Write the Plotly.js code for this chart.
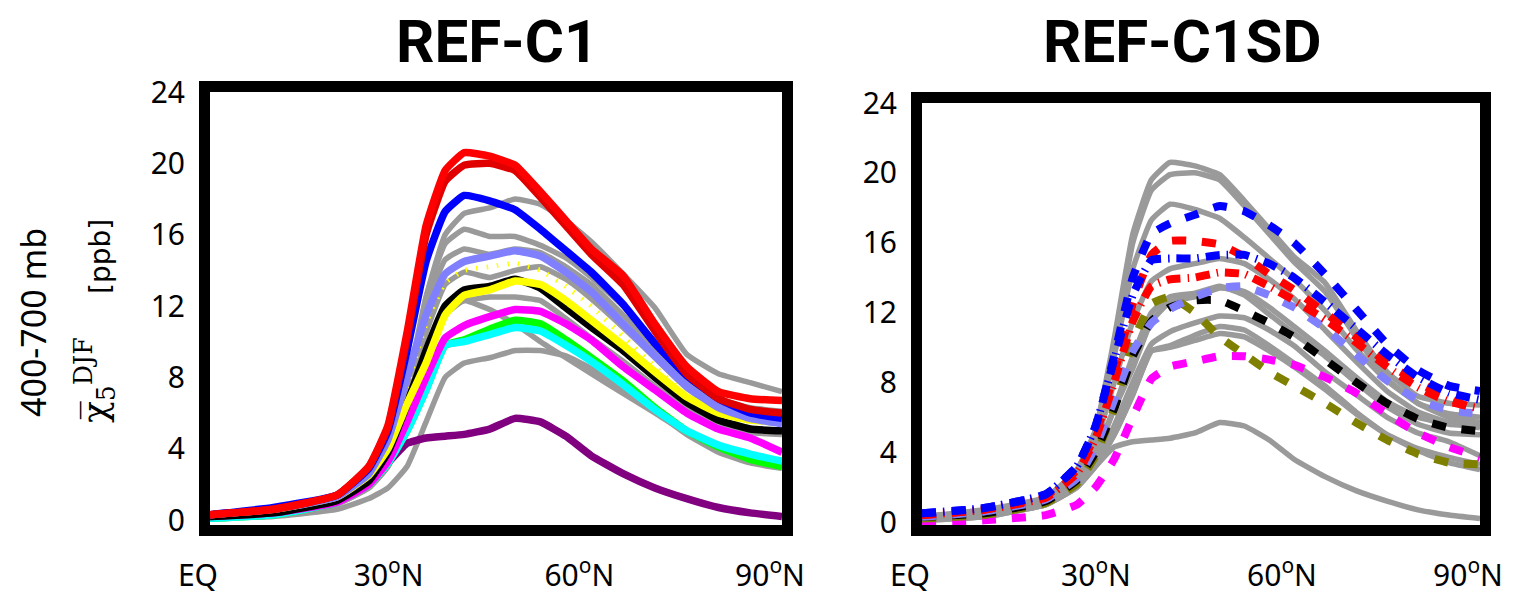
<!DOCTYPE html>
<html>
<head>
<meta charset="utf-8">
<script src="https://cdn.plot.ly/plotly-3.0.1.min.js"></script>
<style>html,body{margin:0;padding:0;background:#fff;}#chart{width:1530px;height:595px;}</style>
</head>
<body>
<div id="chart"></div>
<script>
// latitude grid (degrees N)
const lat = [0,10,20,25,28,31,34,37,40,44,48,52,56,60,65,70,75,80,85,90];

// REF-C1 models (coloured in left panel, shown grey in right panel)
const redA      = [0.3,0.6,1.4,3.0,5.3,10.5,16.5,19.6,20.6,20.4,19.9,18.4,16.8,15.2,13.7,11.0,8.6,7.2,6.8,6.7];
const redB      = [0.3,0.6,1.4,3.0,5.2,10.2,16.0,19.0,19.9,20.0,19.6,18.1,16.5,14.9,13.2,10.6,8.2,6.8,6.2,6.0];
const blue      = [0.3,0.7,1.4,2.9,5.0,9.5,14.5,17.3,18.2,17.9,17.4,16.3,15.1,13.9,12.1,9.9,8.1,6.8,6.0,5.7];
const lightblue = [0.3,0.6,1.3,2.6,4.5,8.0,11.5,13.8,14.5,14.8,15.1,14.8,13.9,12.8,11.0,9.2,7.5,6.3,5.7,5.4];
const yellowDot = [0.3,0.6,1.3,2.6,4.3,7.5,11.0,13.3,14.0,14.2,14.4,14.0,13.1,12.0,10.3,8.6,7.0,5.8,5.2,5.0];
const yellow    = [0.3,0.6,1.3,2.5,4.0,6.5,8.8,11.5,12.6,12.9,13.4,13.2,12.3,11.2,9.8,8.3,6.9,6.0,5.6,5.5];
const black     = [0.2,0.4,1.1,2.2,3.8,6.5,9.5,12.0,12.9,13.1,13.5,13.0,11.9,10.8,9.5,8.0,6.6,5.6,5.1,5.0];
const magenta   = [0.2,0.4,1.0,2.0,3.3,5.5,8.0,10.2,10.9,11.4,11.8,11.7,11.0,10.1,8.6,7.3,6.0,5.1,4.6,3.8];
const green     = [0.1,0.3,1.0,2.0,3.2,5.0,7.3,9.8,10.1,10.7,11.2,11.0,10.1,9.1,7.8,6.3,5.0,4.1,3.4,3.0];
const cyan      = [0.1,0.3,1.0,2.0,3.2,5.0,7.3,9.8,10.0,10.4,10.8,10.6,9.8,8.9,7.6,6.2,5.0,4.2,3.7,3.3];
const purple    = [0.2,0.5,1.2,2.2,3.2,4.3,4.6,4.7,4.8,5.1,5.7,5.5,4.7,3.6,2.6,1.8,1.2,0.7,0.4,0.2];

// REF-C1SD models (grey in left panel)
const grayA = [0.2,0.4,1.0,2.0,3.5,7.0,12.5,16.0,17.2,17.5,18.0,17.7,16.8,15.6,13.8,11.9,9.3,8.2,7.7,7.2];
const grayB = [0.2,0.5,1.1,2.2,3.8,7.5,12.5,15.5,16.3,15.9,15.9,15.4,14.7,13.6,12.0,10.0,8.0,6.8,6.3,6.1];
const grayC = [0.2,0.5,1.1,2.2,3.8,7.2,12.0,14.6,15.2,14.9,15.2,15.0,14.2,13.2,11.5,9.6,7.7,6.5,6.0,5.8];
const grayD = [0.2,0.4,1.0,2.0,3.5,6.5,10.5,13.2,13.9,13.6,14.0,14.2,13.5,12.4,10.8,9.1,7.4,6.2,5.6,5.4];
const grayE = [0.1,0.3,0.9,1.8,3.0,5.5,9.0,11.8,12.3,12.5,12.5,12.3,11.3,10.2,8.9,7.5,6.2,5.3,4.9,4.8];
const grayF = [0.1,0.3,0.9,1.8,3.0,5.5,9.0,11.5,12.3,11.8,11.0,10.0,9.1,8.2,7.1,6.0,4.9,4.0,3.5,3.3];
const grayG = [0.1,0.2,0.6,1.2,1.8,3.0,5.5,8.0,8.8,9.1,9.5,9.5,9.2,8.5,7.4,6.1,4.8,3.8,3.2,2.9];

// REF-C1SD models (coloured dashed in right panel)
const blueD1     = [0.5,0.8,1.6,3.2,5.5,9.5,14.0,16.5,17.1,17.6,18.1,17.8,17.0,16.0,14.2,12.2,10.2,8.7,7.8,7.5];
const blueD2     = [0.5,0.8,1.6,3.2,5.5,9.3,13.0,15.0,15.1,15.1,15.3,15.3,14.8,14.0,12.6,11.1,9.6,8.3,7.4,7.0];
const redD1      = [0.4,0.7,1.5,3.0,5.0,8.5,12.5,15.3,16.1,16.1,15.9,15.2,14.2,13.3,12.0,10.6,9.1,8.0,7.1,6.3];
const redD2      = [0.4,0.7,1.4,2.8,4.8,8.0,11.5,13.5,13.9,14.0,14.3,14.2,13.5,12.7,11.6,10.3,8.9,7.7,6.9,6.5];
const lightblueD = [0.3,0.6,1.3,2.5,4.3,7.0,9.8,11.4,12.2,12.9,13.4,13.5,13.0,12.3,11.1,9.6,8.1,7.0,6.4,6.2];
const blackD     = [0.3,0.5,1.2,2.4,4.0,6.5,9.5,11.5,12.3,12.7,12.7,12.1,11.4,10.6,9.3,8.0,6.8,5.9,5.4,5.2];
const oliveD     = [0.2,0.4,1.1,2.2,3.8,6.5,10.3,12.5,12.9,12.0,10.6,9.6,8.6,7.8,6.8,5.7,4.7,3.9,3.4,3.3];
const magentaD   = [0.0,0.1,0.4,1.0,2.0,3.6,6.0,8.2,8.9,9.2,9.5,9.5,9.3,9.0,8.3,7.4,6.2,5.1,4.3,3.7];

// tick labels
const xTickVals = [0,30,60,90];
const xTickText = ['EQ','30<sup>o</sup>N','60<sup>o</sup>N','90<sup>o</sup>N'];
const yTickVals = [0,4,8,12,16,20,24];
const panelTitles = ['REF-C1','REF-C1SD'];

const GREY = '#9a9a9a';
const traces = [];
function add(y, color, width, dash, xa, ya) {
  traces.push({x: lat, y: y, type: 'scatter', mode: 'lines', xaxis: xa, yaxis: ya,
    line: {color: color, width: width, dash: dash || 'solid', shape: 'spline', smoothing: 0.4},
    hoverinfo: 'skip'});
}
// left panel
[grayG, grayF, grayE, grayD, grayC, grayB, grayA].forEach(g => add(g, GREY, 5.5, null, 'x', 'y'));
add(purple, '#800080', 7.5, null, 'x', 'y');
add(yellowDot, '#ffff00', 5, '1.5px,9px', 'x', 'y');
add(green, '#00ff00', 7.5, null, 'x', 'y');
add(cyan, '#00ffff', 7.5, null, 'x', 'y');
add(magenta, '#ff00ff', 7.5, null, 'x', 'y');
add(black, '#000000', 7.5, null, 'x', 'y');
add(yellow, '#ffff00', 7.5, null, 'x', 'y');
add(lightblue, '#8080ff', 7.5, null, 'x', 'y');
add(blue, '#0000ff', 7.5, null, 'x', 'y');
add(redB, '#e00000', 7.5, null, 'x', 'y');
add(redA, '#ff0000', 7.5, null, 'x', 'y');
// right panel
[purple, green, cyan, magenta, black, yellow, lightblue, blue, redB, redA].forEach(g => add(g, GREY, 5.5, null, 'x2', 'y2'));
add(magentaD, '#ff00ff', 8, '14px,16px', 'x2', 'y2');
add(oliveD, '#808000', 8, '14px,16px', 'x2', 'y2');
add(blackD, '#000000', 8, '14px,16px', 'x2', 'y2');
add(lightblueD, '#8080ff', 8, '14px,16px', 'x2', 'y2');
add(redD2, '#ff0000', 8, '14px,7px,1.5px,7px', 'x2', 'y2');
add(redD1, '#ff0000', 8, '14px,16px', 'x2', 'y2');
add(blueD2, '#0000ff', 8, '14px,7px,1.5px,7px', 'x2', 'y2');
add(blueD1, '#0000ff', 8, '14px,16px', 'x2', 'y2');

const W = 1530, H = 595;
const tickFont = {family: 'Noto Sans, sans-serif', size: 30, color: '#000'};
function xax(l, r, anchor) {
  return {domain: [l / W, r / W], range: [0, 90], anchor: anchor, tickvals: xTickVals, ticktext: xTickText,
    showline: true, mirror: true, linewidth: 11, linecolor: '#000', showgrid: false, zeroline: false,
    ticks: '', tickfont: tickFont, ticklabelshift: -12, ticklabelstandoff: 14, fixedrange: true};
}
function yax(t, b, lo, anchor) {
  return {domain: [1 - b / H, 1 - t / H], range: [lo, 24], anchor: anchor, tickvals: yTickVals,
    showline: true, mirror: true, linewidth: 11, linecolor: '#000', showgrid: false, zeroline: false,
    ticks: '', tickfont: tickFont, ticklabelstandoff: 8, fixedrange: true};
}
const titleFont = {family: 'Roboto, Liberation Sans, sans-serif', size: 60, color: '#000', weight: 'bold'};
const layout = {
  width: W, height: H, margin: {l: 0, r: 0, t: 0, b: 0}, showlegend: false,
  paper_bgcolor: '#fff', plot_bgcolor: '#fff', hovermode: false,
  xaxis: xax(210, 782, 'y'),
  yaxis: yax(92, 525, -0.28, 'x'),
  xaxis2: xax(922, 1480, 'y2'),
  yaxis2: yax(103, 525, -0.17, 'x2'),
  annotations: [
    {text: '<b>' + panelTitles[0] + '</b>', x: 497 / W, y: 1 - 42 / H, xref: 'paper', yref: 'paper', showarrow: false, font: titleFont, xanchor: 'center', yanchor: 'middle'},
    {text: '<b>' + panelTitles[1] + '</b>', x: 1182 / W, y: 1 - 42 / H, xref: 'paper', yref: 'paper', showarrow: false, font: titleFont, xanchor: 'center', yanchor: 'middle'},
    {text: '400-700 mb', x: 33 / W, y: 1 - 323 / H, xref: 'paper', yref: 'paper', showarrow: false, textangle: -90,
      font: {family: 'Noto Sans, sans-serif', size: 34, color: '#000'}, xanchor: 'center', yanchor: 'middle'},
    {text: 'χ̅<sub>5</sub><sup>DJF</sup>', x: 95 / W, y: 1 - 380 / H, xref: 'paper', yref: 'paper', showarrow: false, textangle: -90,
      font: {family: 'DejaVu Serif, serif', size: 36, color: '#000'}, xanchor: 'center', yanchor: 'middle'},
    {text: '[ppb]', x: 100 / W, y: 1 - 257 / H, xref: 'paper', yref: 'paper', showarrow: false, textangle: -90,
      font: {family: 'DejaVu Sans, sans-serif', size: 28, color: '#000'}, xanchor: 'center', yanchor: 'middle'}
  ]
};
Plotly.newPlot('chart', traces, layout, {staticPlot: true, displayModeBar: false});
</script>
</body>
</html>
